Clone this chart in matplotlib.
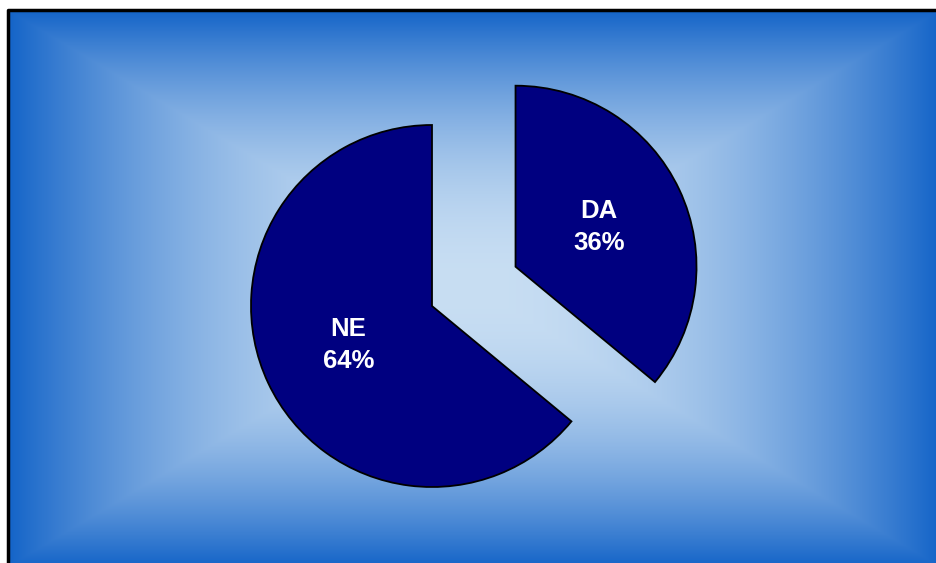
import matplotlib.pyplot as plt
import numpy as np

labels = ['DA', 'NE']
shares = [36, 64]
explode = [0.51, 0.0]  # fraction of the radius

W, H = 936, 563
fig = plt.figure(figsize=(W / 100, H / 100), dpi=100)
ax = fig.add_axes([0, 0, 1, 1])

# box-shaped gradient: light in the middle, blue toward the frame edges
x0, x1, y0, y1 = 8, 940, -4, 553
nx, ny = 600, 400
gx = np.linspace(-1, 1, nx)
gy = np.linspace(-1, 1, ny)
GX, GY = np.meshgrid(gx, gy)
t = np.maximum(np.abs(GX), np.abs(GY)) ** 2
inner = np.array([200, 222, 243]) / 255
outer = np.array([20, 100, 200]) / 255
img = inner + (outer - inner) * t[..., None]
ax.imshow(img, extent=(x0, x1, y0, y1), origin='lower', aspect='auto', zorder=0)
ax.plot([x0, x0, x1], [y0, y1, y1], color='black', lw=2.5, zorder=1,
        solid_capstyle='projecting')

cx, cy, r = 432, 257, 181
# matplotlib offsets exploded wedges in data units, so scale by the radius
wedges, _ = ax.pie(shares, explode=[e * r for e in explode], startangle=90,
                   counterclock=False, colors=['#000080', '#000080'],
                   center=(cx, cy), radius=r,
                   wedgeprops=dict(edgecolor='black', linewidth=1.3),
                   frame=True)
ax.set_xlim(0, W)
ax.set_ylim(0, H)
ax.axis('off')

for w, lab, v in zip(wedges, labels, shares):
    mid = np.deg2rad((w.theta1 + w.theta2) / 2)
    wx, wy = w.center
    ax.text(wx + 0.51 * r * np.cos(mid), wy + 0.51 * r * np.sin(mid),
            f'{lab}\n{v}%', ha='center', va='center', color='white',
            fontsize=18.5, fontweight='bold', family='Liberation Sans',
            linespacing=1.42, zorder=5)

fig.savefig('out.png', dpi=100, facecolor='white')
